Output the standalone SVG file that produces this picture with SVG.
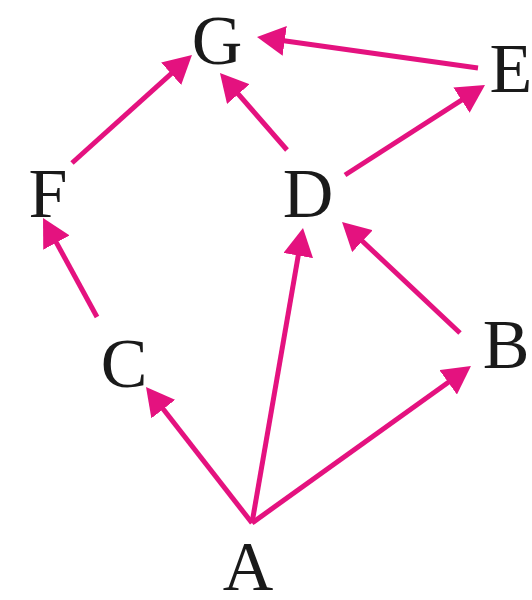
<svg xmlns="http://www.w3.org/2000/svg" width="532" height="600" viewBox="0 0 532 600">
<style>
.lbl{font-family:"Liberation Serif","Times New Roman",serif;font-size:70px;fill:#1a1a1a;text-anchor:middle}
.edge{stroke:#E4127F;stroke-width:5;fill:none;marker-end:url(#ah)}
</style>
<defs>
<marker id="ah" viewBox="0 0 28 30" markerWidth="28" markerHeight="30" markerUnits="userSpaceOnUse" refX="8" refY="15" orient="auto">
<path d="M0,0 L28,15 L0,30 z" fill="#E4127F"/>
</marker>
</defs>
<rect width="532" height="600" fill="#ffffff"/>
<g id="connectors">
<line class="edge" x1="252" y1="523" x2="158.3" y2="402.8"/>
<line class="edge" x1="252" y1="523" x2="299.6" y2="247.7"/>
<line class="edge" x1="252" y1="523" x2="454.7" y2="377.7"/>
<line class="edge" x1="97" y1="317" x2="52.6" y2="235.6"/>
<line class="edge" x1="460" y1="333" x2="356.6" y2="235.7"/>
<line class="edge" x1="287" y1="150" x2="233.1" y2="88.1"/>
<line class="edge" x1="345" y1="175" x2="468.2" y2="95.8"/>
<line class="edge" x1="478" y1="68" x2="276.8" y2="39.8"/>
<line class="edge" x1="72" y1="163" x2="177.1" y2="68.4"/>
</g>
<g id="node-G"><text class="lbl" x="217" y="64">G</text></g>
<g id="node-E"><text class="lbl" x="511" y="92">E</text></g>
<g id="node-D"><text class="lbl" x="308" y="217">D</text></g>
<g id="node-F"><text class="lbl" x="48" y="217">F</text></g>
<g id="node-C"><text class="lbl" x="124" y="387">C</text></g>
<g id="node-B"><text class="lbl" x="506" y="368">B</text></g>
<g id="node-A"><text class="lbl" x="248" y="590">A</text></g>
</svg>
